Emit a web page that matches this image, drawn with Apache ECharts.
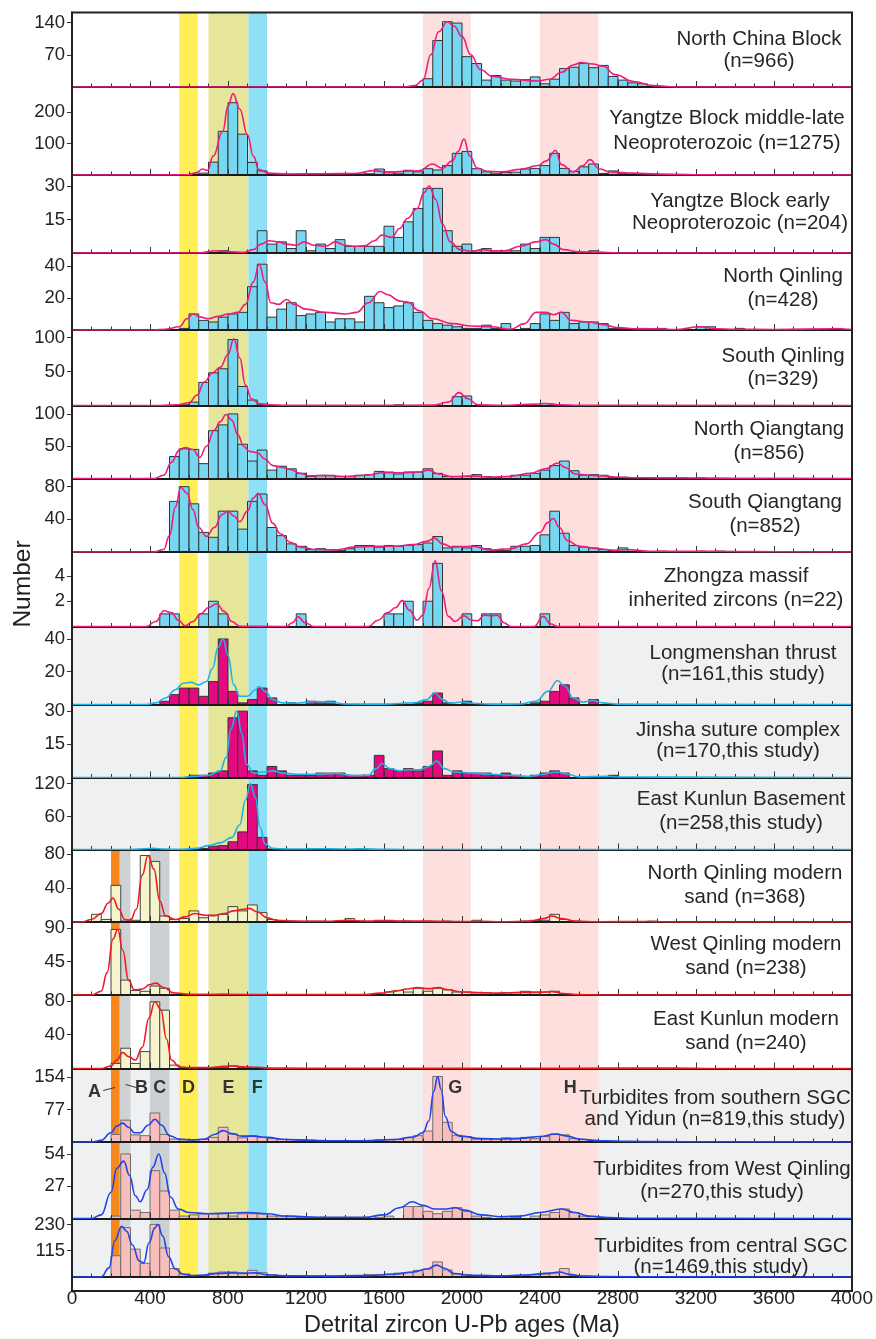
<!DOCTYPE html>
<html><head><meta charset="utf-8">
<script src="https://cdn.jsdelivr.net/npm/echarts@6/dist/echarts.min.js"></script>
<style>html,body{margin:0;padding:0;background:#fff}#c{width:876px;height:1339px}</style>
</head><body><div id="c"></div>
<script>
// ---------------- DATA ----------------
const BIN_WIDTH = 50;
const X_TICKS = [0, 400, 800, 1200, 1600, 2000, 2400, 2800, 3200, 3600, 4000];

const PANEL_LABELS = [
  ["North China Block", "(n=966)"],
  ["Yangtze Block middle-late", "Neoproterozoic (n=1275)"],
  ["Yangtze Block early", "Neoproterozoic (n=204)"],
  ["North Qinling", "(n=428)"],
  ["South Qinling", "(n=329)"],
  ["North Qiangtang", "(n=856)"],
  ["South Qiangtang", "(n=852)"],
  ["Zhongza massif", "inherited zircons (n=22)"],
  ["Longmenshan thrust", "(n=161,this study)"],
  ["Jinsha suture complex", "(n=170,this study)"],
  ["East Kunlun Basement", "(n=258,this study)"],
  ["North Qinling modern", "sand (n=368)"],
  ["West Qinling modern", "sand (n=238)"],
  ["East Kunlun modern", "sand (n=240)"],
  ["Turbidites from southern SGC", "and Yidun (n=819,this study)"],
  ["Turbidites from West Qinling", "(n=270,this study)"],
  ["Turbidites from central SGC", "(n=1469,this study)"]
];

// y-axis: max of each panel and labelled tick step
const Y_MAX  = [162, 280, 35, 48, 111, 113, 90, 5.9, 47.6, 33, 131, 85, 98, 87, 175, 64, 256];
const Y_STEP = [70, 100, 15, 20, 50, 50, 40, 2, 20, 15, 60, 40, 45, 40, 77, 27, 115];

// histogram: first bin start age (Ma) and counts per 50 Ma bin
const HIST_START = [1800, 600, 750, 550, 550, 500, 500, 450, 450, 600, 650, 100, 200, 200, 200, 200, 200];

const northChinaCounts = [18,101,142,139,66,51,15,25,15,13,16,22,7,17,40,43,51,42,47,23,15,9,7,2];
const yangtzeMLCounts = [3,6,41,139,230,130,40,13,3,2, 2,2,2,3,2,2,3,3,4,19, 10,6,15,10,20,16,30,69,75,20, 10,6,8,9,19,21,30,69,21,11, 26,35,5,13,4,3,3,2];
const yangtzeECounts = [1,0,0,0,10,4,5,2,10,1, 4,2,6,3,3,3,3,12,7,14, 20,29,29,10,3,4,1,2,1,1, 1,4,2,7,7,0,0,0,1];
const northQinlingCounts = [1,10,6,5,8,10,11,27,41,8, 13,17,9,10,11,5,7,7,5,21, 17,14,15,17,11,6,4,3,2,1, 1,3,1,4,0,1,4,10,6,11, 4,5,5,4,1,1,0,1,0,1, 0,0,0,2,2,0,0,1,0,0, 0,0,0,0,0,0,0,1];
const southQinlingCounts = [1,5,34,48,54,97,28,8,2, 0,0,0,0,0,0,0,0,0,0,0,0,0, 1, 0,0,0,0,0, 13,14, 0,0,0,0,0,0,0, 3,1];
const northQiangtangCounts = [34,46,45,23,74,83,100,53,27,44, 13,19,15,8,3,5,5,3,3,5, 6,11,10,7,10,10,15,8,3,3, 3,6,3,2,3,5,5,8,13,20, 27,12,5,6,5,2,2,1,1,1, 1,0,1,0,1];
const southQiangtangCounts = [62,80,59,24,18,50,50,28,62,71, 30,20,10,7,3,4,3,2,4,8, 8,6,8,7,8,9,11,19,5,7, 5,8,4,2,2,7,7,8,21,50, 23,8,6,5,3,2,5,1,1,0, 1,0,0,0,1,0,1];
const zhongzaCounts = [1,1,0,0,1,2,1,0,0,0, 0,0,0,0,1,0,0,0,0,0, 0,0,0,1,1,2,0,2,5,0, 0,1,0,1,1,0,0,0,0,1];
const longmenshanCounts = [2,6,10,10,5,14,40,8,1,3, 10,4,0,1,0,2,1,2, 0,0,0,0,0,0,0,0, 1,2,7,1,0,2, 0,0,0,0,0,0, 1,2,8,12,4,0,3];
const jinshaCounts = [1,1,2,3,27,30,3,1,5,3, 1,1,1,2,2,2,1,1,1,10, 4,3,4,3,5,12,1,3,2,2, 2,1,2,1,0,1,2,3,2,0, 0,0,0,1];
const eastKunlunBaseCounts = [2,6,7,14,32,118,22,1,1,0,0,1,0,1,0,0,1];
const nqSandCounts = [9,3,43,1,2,78,71,7,3,4, 13,5,8,9,18,13,20,11,3,1, 1,0,1,1,0,0,4,1,0,2, 2,1,1,0,1,0,1,0,0,2, 0,0,0,0,1,2,2,9,3,1, 0,0,0,0,0,0,0,1];
const wqSandCounts = [88,20,6,5,12,9,1,0,0,0,0,1, 0,0,0,0,0,0,0,0,0,0,0,0,0,0,0,0, 4,6,4,9,5,9,7,4,4,1,3,1,3,3,5,4,4,5,1];
const ekSandCounts = [6,24,6,20,79,69,4,1,0,0,1,1,3,1,1,1];
const turbSouthCounts = [18,52,17,15,69,18,7,5,5,6, 11,35,19,10,15,11,8,6,6,6, 5,4,3,3,3,3,3,5,6,6, 10,15,26,156,47,16,13,7,7,7, 10,7,11,8,13,19,17,8,6,4, 3,2,1,1];
const turbWQCounts = [2,54,7,5,40,23,7,2,3,4, 4,4,2,4,4,4,2,2,2,1, 1,1,0,0,0,0,0,1,2,0, 10,10,6,4,6,9,6,2,1,0, 0,1,0,2,3,5,8,5,2];
const turbCentralCounts = [93,216,122,60,230,127,37,13,7,7, 17,22,22,14,29,19,10,7,6,6, 5,6,5,6,7,7,10,10,13,17, 19,29,35,66,31,13,10,7,7,6, 6,6,7,10,13,17,37,7,5,3, 2,2,1];

// kernel density curves: [age, value]
const northChinaKde = [[0,0],[1700,0],[1760,3],[1800,15],[1840,70],[1880,120],[1925,142],[1960,132],[2000,110],[2045,70],[2095,38],[2155,23],[2250,17],[2390,13],[2450,17],[2510,32],[2570,48],[2610,53],[2670,50],[2725,45],[2785,27],[2880,12],[2980,3],[3100,0],[4000,0]];
const yangtzeMLKde = [[0,0],[430,0],[600,1],[640,8],[669,19],[695,15],[724,60],[773,139],[800,220],[826,259],[860,210],[900,128],[930,60],[959,17],[1008,6],[1100,3],[1300,4],[1450,5],[1549,14],[1620,8],[1700,12],[1780,13],[1848,35],[1900,22],[1950,45],[1980,75],[2010,114],[2040,60],[2078,22],[2130,12],[2205,10],[2300,18],[2390,30],[2430,44],[2480,78],[2510,33],[2570,10],[2620,30],[2656,49],[2705,19],[2760,10],[2880,6],[3000,3],[3200,1],[3400,0],[4000,0]];
const yangtzeEKde = [[0,0],[650,0],[740,1],[800,0.6],[880,0.3],[930,1.5],[970,4],[1010,5.5],[1060,5],[1100,4],[1150,3.5],[1190,5],[1240,3.5],[1300,3],[1350,5],[1400,3.5],[1450,3],[1500,3.2],[1550,5.5],[1590,8],[1640,7],[1680,11],[1720,15.5],[1770,20],[1805,27],[1832,30],[1865,24],[1900,13],[1940,5],[1990,1.5],[2050,0.8],[2100,1.5],[2160,1],[2220,1],[2300,3],[2380,5],[2430,6],[2470,4],[2520,1.5],[2600,0.5],[2700,0.4],[2800,0],[4000,0]];
const northQinlingKde = [[0,0],[420,0],[480,0.5],[550,2],[590,7],[620,10],[660,8],[700,7],[750,8.5],[800,10],[850,11],[890,16],[930,30],[960,41],[990,30],[1020,17],[1060,16],[1100,19],[1140,16],[1200,13],[1300,11],[1400,10],[1460,11],[1520,17],[1580,24],[1620,22],[1680,18],[1720,17.5],[1780,12],[1850,7],[1950,4],[2050,2.5],[2150,2],[2250,0.5],[2320,4],[2380,11],[2430,11],[2470,9.5],[2510,11],[2560,6],[2650,5],[2720,3.5],[2800,1.5],[2900,0.7],[3000,0.7],[3100,0.3],[3220,2],[3300,0.8],[3400,0.5],[3600,0.3],[3920,0.8],[4000,0.3]];
const southQinlingKde = [[0,0],[450,0],[540,1],[600,4],[640,15],[680,35],[720,48],[760,56],[800,75],[830,98],[860,70],[890,30],[920,10],[960,3],[1000,1],[1100,0.3],[1600,0.3],[1850,0.5],[1930,5],[1985,19],[2030,10],[2080,1],[2200,0.2],[2380,2],[2430,3],[2500,1],[2600,0.3],[4000,0]];
const northQiangtangKde = [[0,0],[420,0],[470,5],[510,25],[550,44],[580,48],[620,45],[655,33],[690,50],[730,75],[760,88],[790,99],[820,90],[850,68],[880,50],[910,42],[950,40],[990,30],[1030,20],[1080,17],[1120,14],[1170,8],[1220,4],[1300,4.5],[1400,3],[1500,5],[1600,9],[1700,9],[1780,10],[1830,13],[1880,7],[1950,3],[2050,4],[2150,2],[2250,3.5],[2350,8],[2430,15],[2490,24],[2530,17],[2580,7],[2650,5],[2720,4],[2800,2],[2900,1.2],[3000,1],[3200,0.8],[3400,0.5],[3600,0.3],[4000,0]];
const southQiangtangKde = [[0,0],[420,0],[470,3],[500,20],[530,55],[558,79],[590,72],[620,52],[650,30],[690,19],[730,30],[770,46],[800,50],[830,44],[860,37],[900,50],[930,66],[955,72],[990,58],[1030,35],[1070,22],[1120,12],[1170,6],[1250,3],[1350,2.5],[1450,6],[1550,7],[1650,7],[1750,9],[1820,13],[1860,17],[1900,10],[1950,6],[2050,7],[2150,2.5],[2250,4],[2330,10],[2400,24],[2440,36],[2468,41],[2500,30],[2540,14],[2600,7],[2700,4],[2780,2],[2850,3],[2950,1],[3100,0.8],[3300,1],[3500,0.4],[4000,0]];
const zhongzaKde = [[0,0],[380,0],[430,0.4],[472,1.25],[510,1.1],[545,0.5],[580,0.05],[620,0.4],[660,1],[700,1.5],[742,1.8],[780,1.2],[820,0.4],[860,0.02],[1100,0],[1130,0.3],[1160,0.77],[1195,0.3],[1240,0],[1520,0],[1570,0.5],[1620,1.1],[1660,1.5],[1693,2.05],[1730,1.3],[1770,0.5],[1800,0.9],[1830,3],[1862,5.2],[1895,2.8],[1930,0.8],[1965,0.4],[2009,0.85],[2050,0.5],[2080,0.45],[2114,0.9],[2150,0.85],[2180,0.9],[2215,0.3],[2250,0],[2370,0],[2416,0.8],[2455,0.2],[2490,0],[4000,0]];
const longmenshanKde = [[0,0],[380,0],[430,1],[480,4],[530,9],[570,13],[610,13.5],[650,12],[690,14],[720,22],[750,35],[775,40],[800,30],[830,12],[860,5],[900,5],[940,9],[960,11],[990,8],[1030,3],[1080,1],[1150,0.8],[1250,1.8],[1320,1.5],[1400,0.3],[1600,0.2],[1750,1],[1820,3],[1860,7],[1900,3],[1940,0.8],[2000,1.5],[2050,0.8],[2150,0.2],[2300,0.3],[2380,2],[2440,8],[2490,14.5],[2530,11],[2570,4],[2620,1.5],[2670,2.5],[2720,1],[2800,0.2],[4000,0]];
const jinshaKde = [[0,0],[550,0],[620,0.5],[700,1],[760,3],[790,9],[815,22],[845,30],[870,20],[895,6],[930,2],[980,2.5],[1030,3],[1080,2],[1150,1.5],[1250,1.5],[1350,1.8],[1450,0.8],[1520,1],[1560,4],[1590,6.3],[1630,4],[1680,3],[1720,3.5],[1780,3.5],[1830,5],[1870,7.4],[1910,4],[1960,2.5],[2050,2],[2150,1.5],[2250,1],[2350,0.5],[2420,1.5],[2480,2.5],[2540,1.5],[2600,0.3],[2750,0.5],[2800,0.2],[4000,0]];
const eastKunlunBaseKde = [[0,0],[300,0],[370,1.5],[420,2],[470,0.8],[560,0.2],[640,2],[700,7],[760,12],[820,22],[860,45],[890,90],[915,120],[940,95],[965,40],[990,10],[1030,2],[1100,1],[1200,1],[1300,1.5],[1400,0.8],[1500,1.2],[1600,0.3],[1700,0],[4000,0]];
const nqSandKde = [[0,0],[50,0],[100,3],[150,10],[185,22],[210,28],[240,15],[270,3],[300,2],[330,15],[360,55],[390,78],[420,62],[450,25],[480,7],[530,3],[580,6],[630,10],[680,8],[730,7.5],[780,10],[830,13],[880,15],[910,16],[950,12],[1000,5],[1050,2],[1150,1],[1300,0.8],[1420,2],[1500,1],[1600,1.5],[1700,1],[1800,1],[2000,0.5],[2100,0.8],[2200,0.3],[2350,1],[2420,4],[2460,7],[2510,4],[2580,1],[2700,0.3],[2950,0.5],[3100,0],[4000,0]];
const wqSandKde = [[0,0],[100,0],[150,5],[180,30],[210,75],[235,88],[260,60],[290,20],[320,7],[360,8],[400,14],[430,16],[470,10],[520,3],[600,1],[800,1],[1000,0.5],[1500,0.5],[1580,2.5],[1650,5],[1720,8],[1770,10],[1830,8.5],[1880,10],[1930,7],[2000,4],[2100,3],[2200,2.5],[2300,3.5],[2400,3.5],[2460,4.5],[2520,2],[2600,0.5],[2700,0],[4000,0]];
const ekSandKde = [[0,0],[150,0],[200,3],[230,10],[260,19],[290,14],[325,10],[360,25],[395,60],[425,79],[455,70],[485,35],[510,10],[550,2],[600,1],[700,1],[780,2.5],[820,3],[870,2],[950,1.5],[1000,0.5],[1200,0.3],[2500,0.3],[3100,0.5],[3300,0],[4000,0]];
const turbSouthKde = [[0,0],[100,0],[150,4],[200,22],[230,38],[260,45],[290,35],[320,22],[350,22],[390,40],[425,54],[460,40],[500,15],[550,7],[620,5],[680,7],[730,18],[775,27],[820,20],[870,14],[930,14],[1000,11],[1100,6],[1200,4],[1300,3],[1500,3],[1650,6],[1750,12],[1800,22],[1830,50],[1855,120],[1875,155],[1893,125],[1915,60],[1945,25],[1990,14],[2100,8],[2200,7],[2300,9],[2400,13],[2480,19],[2540,14],[2600,7],[2700,3],[2850,1.5],[3000,1],[3300,0.5],[3600,0.2],[4000,0]];
const turbWQKde = [[0,0],[100,0],[150,3],[200,22],[230,42],[265,48],[295,36],[325,19],[350,14],[385,24],[415,43],[445,54],[475,38],[505,18],[545,8],[600,5],[700,4],[800,4.5],[900,5],[1000,4],[1100,2],[1300,1],[1500,1],[1600,3],[1680,9],[1745,14],[1800,11],[1860,8],[1920,8],[1965,9],[2010,7],[2100,3],[2200,1.5],[2300,2],[2400,5],[2510,8],[2580,5],[2650,2],[2750,0.7],[2900,0.2],[4000,0]];
const turbCentralKde = [[0,0],[150,0],[190,40],[220,160],[255,222],[280,200],[310,140],[345,70],[368,62],[395,150],[425,215],[440,230],[465,180],[495,90],[530,35],[570,12],[620,6],[680,9],[750,16],[820,18],[880,17],[940,18],[1000,10],[1100,5],[1300,4],[1500,6],[1650,12],[1750,22],[1820,35],[1870,52],[1910,38],[1960,15],[2050,7],[2200,5],[2350,10],[2450,17],[2500,22],[2550,12],[2620,4],[2750,1.5],[3000,0.8],[3500,0.3],[4000,0]];

const COUNTS = [northChinaCounts, yangtzeMLCounts, yangtzeECounts, northQinlingCounts, southQinlingCounts,
  northQiangtangCounts, southQiangtangCounts, zhongzaCounts, longmenshanCounts, jinshaCounts,
  eastKunlunBaseCounts, nqSandCounts, wqSandCounts, ekSandCounts, turbSouthCounts, turbWQCounts, turbCentralCounts];
const KDES = [northChinaKde, yangtzeMLKde, yangtzeEKde, northQinlingKde, southQinlingKde,
  northQiangtangKde, southQiangtangKde, zhongzaKde, longmenshanKde, jinshaKde,
  eastKunlunBaseKde, nqSandKde, wqSandKde, ekSandKde, turbSouthKde, turbWQKde, turbCentralKde];

// highlighted age ranges (Ma)
const BANDS_ALL = [["D", 550, 645], ["E", 700, 905], ["F", 905, 1000], ["G", 1800, 2045], ["H", 2400, 2700]];
const BANDS_YOUNG = [["A", 200, 245], ["B", 245, 300], ["C", 400, 500]];
const BAND_LETTERS = [["A", 115], ["B", 356], ["C", 450], ["D", 597], ["E", 802], ["F", 950], ["G", 1965], ["H", 2555]];

// ---------------- LAYOUT / STYLE ----------------
const PANEL_EDGES = [12.5, 87, 175, 253, 330, 405.5, 478.5, 552, 626.5, 704.5, 777.5, 849.5, 922, 995, 1068.5, 1142, 1218.5, 1291];
const LEFT = 72, RIGHT = 852;
const LABEL_CX = [759, 727, 740, 783, 783, 769, 765, 736, 743, 738, 741, 745, 746, 746, 715, 722, 721];
const LABEL_Y1 = [39, 118, 201, 276, 356, 429, 502, 576, 653, 730, 799, 873, 944, 1019, 1098, 1169, 1246];
const LABEL_Y2 = [61, 143, 223, 300, 379, 453, 526, 600, 674, 751, 823, 897, 968, 1043, 1119, 1192, 1267];
const FONT_FAMILY = "'Liberation Sans', Arial, Helvetica, sans-serif";
const BAND_COLORS = {A:'#f7861c', B:'#cfd2d5', C:'#cdd0d3', D:'#ffee55', E:'#e6e69a', F:'#8ee0f7', G:'#fde0de', H:'#fde0de'};
const GROUP_STYLE = [
  {bar:'#78d7f0', edge:'#333333', line:'#ee1c7e', bg:null},
  {bar:'#e5097f', edge:'#333333', line:'#1db3e8', bg:'#eff0f2'},
  {bar:'#f6f4cc', edge:'#444444', line:'#ee1c24', bg:null},
  {bar:'#f8bebc', edge:'#6e6e6e', line:'#1f45e8', bg:'#eff0f2'}
];
function groupOf(i){ return i < 8 ? 0 : i < 11 ? 1 : i < 14 ? 2 : 3; }

// ---------------- BUILD ----------------
const chart = echarts.init(document.getElementById('c'), null, {renderer:'canvas', width:876, height:1339});
const grids = [], xAxes = [], yAxes = [], series = [], graphics = [];
const N = PANEL_LABELS.length;

for (let i = 0; i < N; i++) {
  const st = GROUP_STYLE[groupOf(i)];
  const top = PANEL_EDGES[i], h = PANEL_EDGES[i+1] - PANEL_EDGES[i];
  const last = i === N - 1;
  grids.push({left: LEFT, width: RIGHT - LEFT, top: top, height: h,
    show: !!st.bg, backgroundColor: st.bg || 'transparent', borderWidth: 0});
  xAxes.push({type:'value', gridIndex:i, min:0, max:4000, interval:400, z:3,
    axisLine:{show:true, onZero:false, lineStyle:{color:'#1a1a1a', width:2}},
    axisTick:{show:true, inside:true, length:6, lineStyle:{color:'#333', width:1}},
    minorTick:{show:true, splitNumber:4, length:3.5, lineStyle:{color:'#333', width:1}},
    splitLine:{show:false}, minorSplitLine:{show:false},
    axisLabel:{show:last, color:'#222', fontSize:19, fontFamily:FONT_FAMILY, margin:12,
      formatter: v => X_TICKS.indexOf(v) >= 0 ? String(v) : ''},
    name: last ? 'Detrital zircon U-Pb ages (Ma)' : '',
    nameLocation:'middle', nameGap:37,
    nameTextStyle:{color:'#222', fontSize:23.5, fontFamily:FONT_FAMILY}
  });
  const step = Y_STEP[i];
  const tv = [step, step*2];
  yAxes.push({type:'value', gridIndex:i, min:0, max:Y_MAX[i], interval:step, z:3,
    axisLine:{show:true, lineStyle:{color:'#333', width:2}},
    axisTick:{show:true, inside:false, length:5, customValues:tv, lineStyle:{color:'#333', width:1}},
    splitLine:{show:false},
    axisLabel:{show:true, customValues:tv, color:'#222', fontSize:18.5, fontFamily:FONT_FAMILY, margin:7,
      formatter: v => (v > 0 && Math.abs(v/step - Math.round(v/step)) < 1e-6 && v <= step*2) ? String(v) : ''}
  });

  // highlighted bands
  const bands = BANDS_ALL.slice();
  if (i >= 11) bands.push(...BANDS_YOUNG);
  series.push({type:'custom', xAxisIndex:i, yAxisIndex:i, z:1, silent:true,
    data: bands.map(b => ({value:[b[1], b[2]], itemStyle:{color:BAND_COLORS[b[0]]}})),
    renderItem: (params, api) => {
      const cs = params.coordSys;
      const a = api.coord([api.value(0), 0]), b = api.coord([api.value(1), 0]);
      return {type:'rect', shape:{x:a[0], y:cs.y, width:b[0]-a[0], height:cs.height},
        style:{fill: api.visual('color')}};
    }
  });

  // histogram bars
  const start = HIST_START[i];
  series.push({type:'custom', xAxisIndex:i, yAxisIndex:i, z:2, silent:true,
    data: COUNTS[i].map((c, k) => [start + k*BIN_WIDTH, c]),
    renderItem: (params, api) => {
      const v = api.value(1);
      if (!v) return null;
      const x0 = api.value(0);
      const p0 = api.coord([x0, v]), p1 = api.coord([x0 + BIN_WIDTH, 0]);
      return {type:'rect', shape:{x:p0[0], y:p0[1], width:p1[0]-p0[0], height:p1[1]-p0[1]},
        style:{fill:st.bar, stroke:st.edge, lineWidth:1}};
    }
  });

  // density curve
  series.push({type:'line', xAxisIndex:i, yAxisIndex:i, z:4, silent:true,
    data: KDES[i], smooth:0.45, smoothMonotone:'x', showSymbol:false, symbol:'none',
    lineStyle:{color:st.line, width:1.6}, clip:true});

  // panel labels
  const font = '20.5px ' + FONT_FAMILY;
  graphics.push({type:'text', z:10, silent:true, style:{text:PANEL_LABELS[i][0], x:LABEL_CX[i], y:LABEL_Y1[i],
    align:'center', verticalAlign:'middle', textAlign:'center', textVerticalAlign:'middle', font:font, fill:'#262626'}});
  graphics.push({type:'text', z:10, silent:true, style:{text:PANEL_LABELS[i][1], x:LABEL_CX[i], y:LABEL_Y2[i],
    align:'center', verticalAlign:'middle', textAlign:'center', textVerticalAlign:'middle', font:font, fill:'#262626'}});
}

// frame and y-axis name
graphics.push({type:'rect', z:20, silent:true,
  shape:{x:LEFT, y:PANEL_EDGES[0], width:RIGHT-LEFT, height:PANEL_EDGES[N]-PANEL_EDGES[0]},
  style:{fill:'none', stroke:'#222', lineWidth:2}});
graphics.push({type:'text', z:10, silent:true, x:23, y:584, rotation:Math.PI/2,
  style:{text:'Number', x:0, y:0, align:'center', verticalAlign:'middle', textAlign:'center', textVerticalAlign:'middle',
    font:'24.5px ' + FONT_FAMILY, fill:'#222'}});

chart.setOption({animation:false, backgroundColor:'#fff', grid:grids, xAxis:xAxes, yAxis:yAxes, series:series, graphic:graphics});

// band letters in the southern turbidite panel, positioned through the axis scale
const LI = 14;
const letterY = PANEL_EDGES[LI] + 20;
const lg = [];
BAND_LETTERS.forEach(([t, age]) => {
  const x = chart.convertToPixel({xAxisIndex:LI}, age);
  lg.push({type:'text', z:12, silent:true, style:{text:t, x:x, y:letterY + (t==='A'?4:0),
    align:'center', verticalAlign:'middle', textAlign:'center', textVerticalAlign:'middle',
    font:'bold 18px ' + FONT_FAMILY, fill:'#333'}});
});
const ax0 = chart.convertToPixel({xAxisIndex:LI}, 160), ax1 = chart.convertToPixel({xAxisIndex:LI}, 220);
const bx0 = chart.convertToPixel({xAxisIndex:LI}, 275), bx1 = chart.convertToPixel({xAxisIndex:LI}, 330);
lg.push({type:'line', z:12, silent:true, shape:{x1:ax0, y1:letterY+2, x2:ax1, y2:letterY-1}, style:{stroke:'#333', lineWidth:1}});
lg.push({type:'line', z:12, silent:true, shape:{x1:bx0, y1:letterY-4, x2:bx1, y2:letterY-1}, style:{stroke:'#333', lineWidth:1}});
chart.setOption({graphic: graphics.concat(lg)});
</script></body></html>
